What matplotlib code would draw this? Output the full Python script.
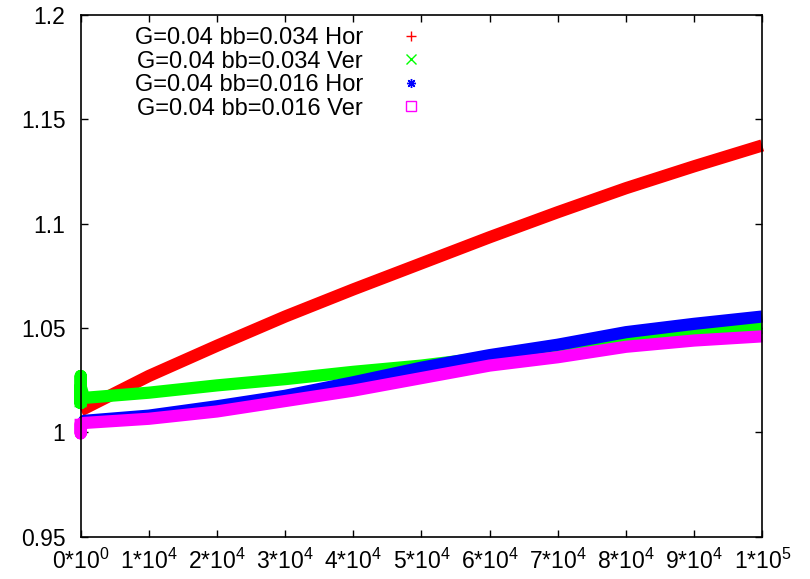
import matplotlib
matplotlib.use("Agg")
import matplotlib.pyplot as plt

plt.rcParams["font.family"] = ["Liberation Sans", "DejaVu Sans"]
plt.rcParams["mathtext.fontset"] = "custom"
plt.rcParams["mathtext.rm"] = "Liberation Sans"
plt.rcParams["mathtext.it"] = "Liberation Sans"

# time steps (x) and the measured ratios for each run
red_x = [0, 10000, 20000, 30000, 40000, 50000, 60000, 70000, 80000, 90000, 100000]
red_y = [1.0105, 1.027, 1.0415, 1.0555, 1.0685, 1.081, 1.0935, 1.1055, 1.117, 1.1275, 1.1375]

green_x = [0, 0, 0, 0, 500, 10000, 20000, 30000, 40000, 50000, 60000, 70000, 80000, 90000, 100000]
green_y = [1.012, 1.027, 1.014, 1.022, 1.0165, 1.019, 1.0225, 1.0255, 1.029, 1.032, 1.036, 1.040, 1.044, 1.047, 1.050]

blue_x = [0, 500, 10000, 20000, 30000, 40000, 50000, 60000, 70000, 80000, 90000, 100000]
blue_y = [1.002, 1.0055, 1.008, 1.0125, 1.0175, 1.024, 1.031, 1.037, 1.042, 1.048, 1.052, 1.0555]

magenta_x = [0, 0, 0, 500, 10000, 20000, 30000, 40000, 50000, 60000, 70000, 80000, 90000, 100000]
magenta_y = [1.0065, 0.9995, 1.004, 1.0045, 1.0065, 1.010, 1.015, 1.020, 1.026, 1.032, 1.036, 1.041, 1.044, 1.046]

labels = ["G=0.04 bb=0.034 Hor", "G=0.04 bb=0.034 Ver",
          "G=0.04 bb=0.016 Hor", "G=0.04 bb=0.016 Ver"]

x_ticks = [0, 10000, 20000, 30000, 40000, 50000, 60000, 70000, 80000, 90000, 100000]
x_ticklabels = ["0*10$^{0}$", "1*10$^{4}$", "2*10$^{4}$", "3*10$^{4}$", "4*10$^{4}$",
                "5*10$^{4}$", "6*10$^{4}$", "7*10$^{4}$", "8*10$^{4}$", "9*10$^{4}$",
                "1*10$^{5}$"]
y_ticks = [0.95, 1.0, 1.05, 1.1, 1.15, 1.2]
y_ticklabels = ["0.95", "1", "1.05", "1.1", "1.15", "1.2"]

colors = ["#ff0000", "#00ff00", "#0000ff", "#ff00ff"]
markers = ["+", "x", (8, 2, 0), "s"]

fig = plt.figure(figsize=(8.10, 5.79), dpi=100)
ax = fig.add_axes([0.0996, 0.0731, 0.8415, 0.9010])

series = [(red_x, red_y), (green_x, green_y), (blue_x, blue_y), (magenta_x, magenta_y)]
for (xs, ys), c in zip(series, colors):
    ax.plot(xs, ys, color=c, lw=8.8, solid_joinstyle="round",
            solid_capstyle="butt", clip_on=False, zorder=2)

handles = []
for lab, c, m in zip(labels, colors, markers):
    h, = ax.plot([], [], ls="none", marker=m, color=c, markersize=6.5,
                 markeredgewidth=1.0,
                 markerfacecolor="none" if m == "s" else c, label=lab)
    handles.append(h)

leg = ax.legend(handles=handles, loc="upper left", bbox_to_anchor=(0.079, 0.977),
                frameon=False, fontsize=17, markerfirst=False, labelspacing=0.065,
                handlelength=1.6, handletextpad=1.25, borderpad=0, borderaxespad=0)

ax.set_xlim(0, 100000)
ax.set_ylim(0.95, 1.2)
ax.set_xticks(x_ticks)
ax.set_xticklabels(x_ticklabels)
ax.set_yticks(y_ticks)
ax.set_yticklabels(y_ticklabels)
ax.tick_params(direction="in", length=5, width=1, labelsize=16.5,
               top=True, right=True, pad=9, colors="black")
ax.tick_params(axis="y", pad=11)
for s in ax.spines.values():
    s.set_linewidth(1.2)
    s.set_color("black")
    s.set_zorder(3)

fig.savefig("out.png", dpi=100)
